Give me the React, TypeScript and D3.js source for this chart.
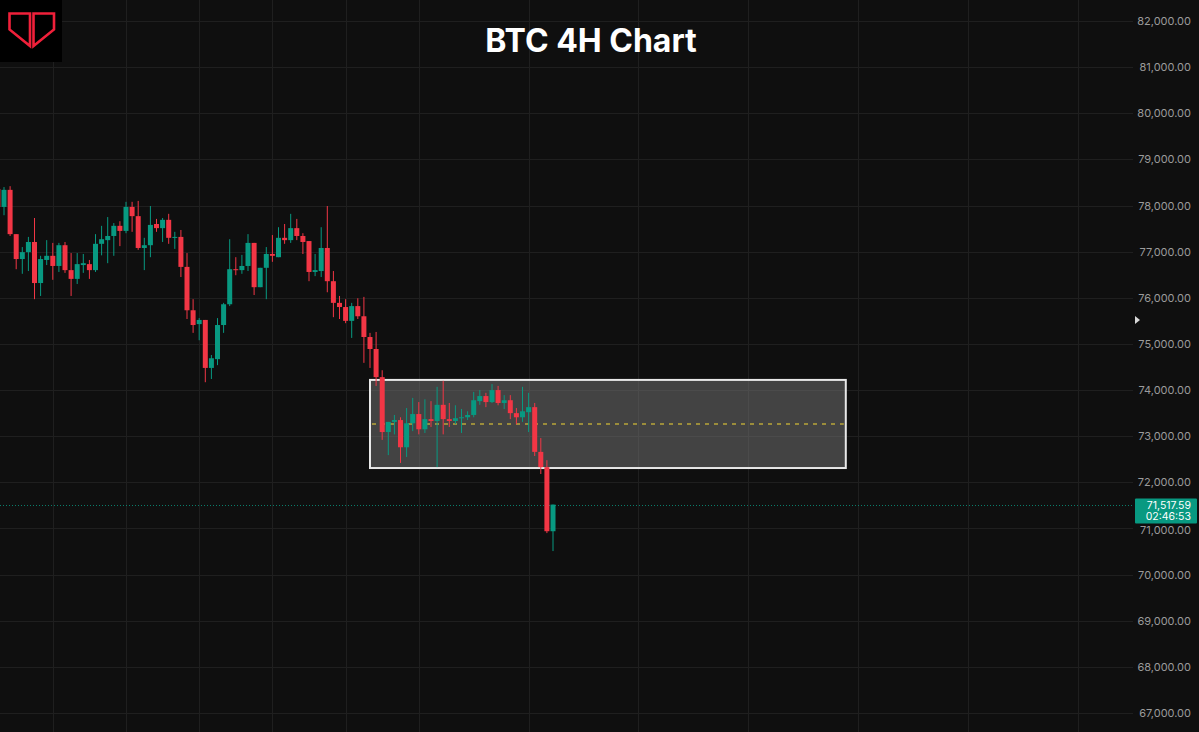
import React from 'react';
import * as d3 from 'd3';

const W = 1199;
const H = 732;

// OHLC of the 4H candles (oldest -> newest)
const openP = [78360, 77970, 78340, 77380, 76840, 76990, 77210, 76320, 76820, 76910, 76690, 77140, 76600, 76410, 76710, 76730, 76600, 77170, 77250, 77340, 77560, 77450, 77970, 77770, 77080, 77140, 77600, 77510, 77690, 77300, 77320, 76670, 75730, 75430, 75520, 74480, 74670, 75410, 75860, 76620, 76600, 76690, 77190, 76230, 76650, 76950, 76880, 77300, 77250, 77510, 77340, 77230, 76560, 76580, 77080, 76360, 75890, 75800, 75500, 75820, 75600, 75150, 74890, 74280, 73090, 73310, 73350, 72760, 73280, 73480, 73150, 73370, 73330, 73680, 73370, 73330, 73390, 73410, 73460, 73760, 73870, 73740, 74000, 73720, 73780, 73500, 73410, 73520, 73630, 72660, 72330, 70940];
const highP = [78420, 78400, 78420, 77380, 77100, 77320, 77730, 76910, 77250, 77190, 77190, 77210, 76970, 76970, 76950, 76820, 77380, 77560, 77750, 77620, 77660, 78080, 78080, 78100, 77300, 77990, 77710, 77730, 77820, 77430, 77470, 76970, 75970, 75560, 75520, 74760, 75560, 75890, 77270, 76880, 76930, 77380, 77190, 76650, 77100, 77360, 77530, 77600, 77820, 77710, 77400, 77230, 76950, 77530, 77990, 76580, 76040, 75970, 75890, 75990, 76020, 75240, 75260, 74430, 73310, 73460, 73410, 73610, 73830, 73740, 73800, 73760, 74070, 74200, 73720, 73670, 73590, 73540, 73960, 74000, 73940, 74130, 74090, 73890, 73890, 73610, 74070, 73940, 73720, 72960, 72480, 71517.59];
const lowP = [77900, 77790, 77340, 76620, 76520, 76580, 75970, 76040, 76710, 76390, 76560, 76540, 76040, 76300, 76540, 76410, 76560, 76920, 76750, 76910, 77120, 77400, 77430, 77040, 76600, 76880, 77430, 77210, 77170, 77060, 76450, 75540, 75240, 75080, 74170, 74240, 74540, 75240, 75820, 76490, 76520, 76580, 76060, 76230, 75970, 76780, 76880, 77170, 77190, 77250, 76950, 76360, 76470, 76450, 76120, 75580, 75540, 75450, 75130, 75540, 74590, 74480, 74090, 72920, 72590, 73040, 72420, 72550, 73110, 73040, 73070, 73200, 72330, 73040, 73200, 73260, 73070, 73350, 73410, 73680, 73630, 73720, 73670, 73590, 73370, 73260, 73310, 73090, 72570, 72180, 70900, 70510];
const closeP = [77970, 78340, 77380, 76840, 76990, 77210, 76320, 76840, 76910, 76690, 77140, 76600, 76410, 76730, 76750, 76600, 77170, 77270, 77340, 77560, 77450, 77970, 77770, 77080, 77140, 77580, 77510, 77690, 77300, 77320, 76670, 75730, 75410, 75520, 74480, 74690, 75410, 75860, 76620, 76600, 76690, 77190, 76230, 76650, 76950, 76910, 77300, 77250, 77510, 77340, 77210, 76560, 76600, 77080, 76360, 75890, 75800, 75500, 75820, 75600, 75150, 74890, 74280, 73090, 73310, 73350, 72760, 73280, 73480, 73150, 73370, 73330, 73680, 73370, 73330, 73390, 73410, 73460, 73780, 73870, 73740, 74000, 73720, 73780, 73500, 73410, 73540, 73630, 72660, 72330, 70940, 71517.59];

// price axis ticks
const priceTicks = [82000, 81000, 80000, 79000, 78000, 77000, 76000, 75000, 74000, 73000, 72000, 71000, 70000, 69000, 68000, 67000];
// time grid (candle index of each time tick)
const timeTicks = [9, 21, 33, 45, 57, 69, 87, 105, 123, 141, 159, 177];

// drawn zone
const zoneStart = 61;
const zoneEnd = 139;
const zoneTop = 74220;
const zoneBottom = 72310;

const lastPrice = 71517.59;
const countdown = '02:46:53';
const title = 'BTC 4H Chart';

const UP = '#089981';
const DOWN = '#f23645';

export default function App() {
  const x = d3.scaleLinear().domain([0, 91]).range([-2.1, 553]);
  const y = d3.scaleLinear().domain([67000, 82000]).range([713, 21]);
  const plotRight = 1133;
  const bodyW = 5;
  const fmt = d3.format(',.2f');
  const font = 'Inter, Roboto, "Noto Sans", sans-serif';
  const candles = d3.range(openP.length).map((i) => ({
    i,
    o: openP[i],
    h: highP[i],
    l: lowP[i],
    c: closeP[i],
  }));
  const yLast = y(lastPrice);
  const zTop = y(zoneTop);
  const zBot = y(zoneBottom);
  const zMid = y((zoneTop + zoneBottom) / 2);

  return (
    <svg
      width={W}
      height={H}
      style={{ position: 'absolute', left: 0, top: 0, display: 'block' }}
    >
      <rect x={0} y={0} width={W} height={H} fill="#0f0f0f" />
      {/* grid */}
      {priceTicks.map((p) => (
        <line key={'h' + p} x1={0} x2={plotRight} y1={Math.round(y(p)) + 0.5} y2={Math.round(y(p)) + 0.5} stroke="#1f1f1f" strokeWidth={1} />
      ))}
      {timeTicks.map((t) => (
        <line key={'v' + t} x1={Math.round(x(t)) + 0.5} x2={Math.round(x(t)) + 0.5} y1={0} y2={H} stroke="#1f1f1f" strokeWidth={1} />
      ))}

      {/* zone */}
      <rect x={x(zoneStart)} y={zTop} width={x(zoneEnd) - x(zoneStart)} height={zBot - zTop} fill="rgba(120,120,120,0.5)" stroke="#e8e8e8" strokeWidth={2} />
      <line x1={x(zoneStart) + 2} x2={x(zoneEnd) - 2} y1={zMid} y2={zMid} stroke="#b9a63a" strokeWidth={1.5} strokeDasharray="4,5" />

      {/* last price line */}
      <line x1={0} x2={plotRight} y1={Math.round(yLast) + 0.5} y2={Math.round(yLast) + 0.5} stroke={UP} strokeOpacity={0.8} strokeWidth={1} strokeDasharray="1,2" />

      {/* candles */}
      {candles.map((d) => {
        const col = d.c >= d.o ? UP : DOWN;
        const cx = x(d.i);
        const top = y(Math.max(d.o, d.c));
        const bot = y(Math.min(d.o, d.c));
        return (
          <g key={d.i}>
            <line x1={cx} x2={cx} y1={y(d.h)} y2={y(d.l)} stroke={col} strokeWidth={1} />
            <rect x={cx - bodyW / 2} y={top} width={bodyW} height={Math.max(1, bot - top)} fill={col} />
          </g>
        );
      })}

      {/* price axis labels */}
      {priceTicks.map((p) => (
        <text key={'t' + p} x={1191} y={y(p) + (p === 71000 ? 1.5 : 0)} textAnchor="end" dominantBaseline="central" fill="#9b9b9b" fontSize={11} fontFamily={font}>
          {fmt(p)}
        </text>
      ))}
      <polygon points="1135,316 1140,320 1135,324" fill="#d8d8d8" />

      {/* last price label */}
      <rect x={1135} y={yLast - 6} width={62} height={25} fill={UP} rx={1} />
      <text x={1191} y={yLast + 1} textAnchor="end" dominantBaseline="central" fill="#ffffff" fontSize={10.5} fontFamily={font}>
        {fmt(lastPrice)}
      </text>
      <text x={1191} y={yLast + 12} textAnchor="end" dominantBaseline="central" fill="#ffffff" fontSize={10.5} fontFamily={font}>
        {countdown}
      </text>

      {/* title */}
      <text x={591} y={52} textAnchor="middle" fill="#ffffff" fontSize={32} fontWeight={700} fontFamily={font}>
        {title}
      </text>

      {/* logo */}
      <rect x={0} y={0} width={62} height={62} fill="#000000" />
      <polygon points="9.5,13.5 30,13.5 30,46 9.5,29.5" fill="none" stroke="#f0203a" strokeWidth={2.6} strokeLinejoin="miter" />
      <polygon points="33.5,13.5 54,13.5 54,29.5 33.5,46" fill="none" stroke="#f0203a" strokeWidth={2.6} strokeLinejoin="miter" />
    </svg>
  );
}
